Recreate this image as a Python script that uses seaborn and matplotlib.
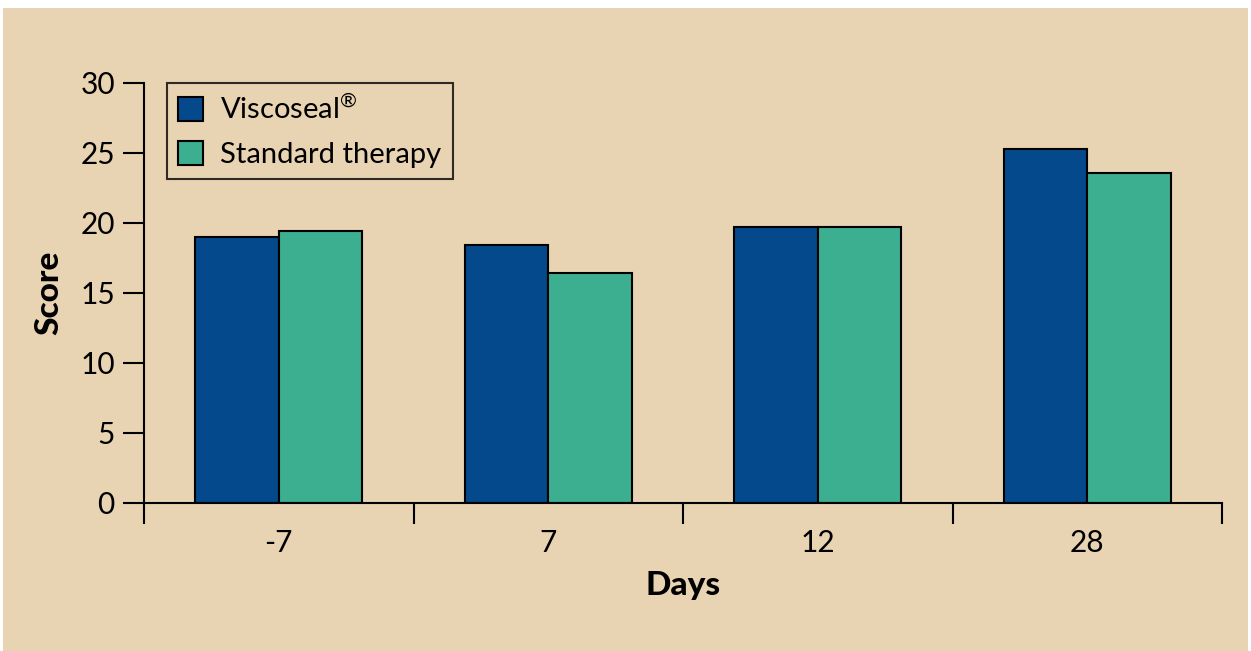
import matplotlib
matplotlib.use("Agg")
import matplotlib.pyplot as plt
import matplotlib.patches as mpatches
import seaborn as sns
import pandas as pd
from matplotlib.ticker import FixedLocator

# Scores per visit day
days = ["-7", "7", "12", "28"]
viscoseal = [19.0, 18.4, 19.7, 25.3]
standard = [19.4, 16.4, 19.7, 23.6]
series_names = ["Viscoseal\u00ae", "Standard therapy"]
y_ticks = [0, 5, 10, 15, 20, 25, 30]

df = pd.DataFrame({
    "Days": days * 2,
    "Score": viscoseal + standard,
    "Group": [series_names[0]] * len(days) + [series_names[1]] * len(days),
})

sns.set_theme(style="ticks")
plt.rcParams["font.family"] = ["Lato", "DejaVu Sans"]
plt.rcParams["mathtext.fontset"] = "custom"
plt.rcParams["mathtext.rm"] = "Lato"
plt.rcParams["text.color"] = "black"
plt.rcParams["axes.labelcolor"] = "black"

BG = "#E8D3B2"
BLUE = "#04498C"
TEAL = "#3BAF90"

W, H = 1251, 651
fig = plt.figure(figsize=(W / 100, H / 100), dpi=100, facecolor="white")
fig.patches.append(mpatches.Rectangle((3 / W, 0), 1245 / W, (H - 8) / H,
                                      transform=fig.transFigure,
                                      facecolor=BG, edgecolor="none", zorder=-10))

ax = fig.add_axes([144 / W, (H - 503) / H, (1222 - 144) / W, (503 - 83) / H])
ax.set_facecolor(BG)
ax.patch.set_alpha(0)

sns.barplot(data=df, x="Days", y="Score", hue="Group", order=days,
            hue_order=series_names, palette=[BLUE, TEAL], width=0.62,
            edgecolor="black", linewidth=1.5, saturation=1, ax=ax)

ax.set_xlim(-0.5, len(days) - 0.5)
ax.set_ylim(0, 30)
ax.set_yticks(y_ticks)
ax.xaxis.set_minor_locator(FixedLocator([i - 0.5 for i in range(len(days) + 1)]))

for s in ["top", "right"]:
    ax.spines[s].set_visible(False)
for s in ["left", "bottom"]:
    ax.spines[s].set_linewidth(1.5)
    ax.spines[s].set_color("black")

ax.tick_params(axis="x", which="major", length=0, pad=19, labelsize=21.5,
               colors="black", labelcolor="black")
ax.tick_params(axis="x", which="minor", length=15, width=1.5, direction="out", color="black")
ax.tick_params(axis="y", which="major", length=15, width=1.5, pad=6, labelsize=21.5,
               colors="black", labelcolor="black")

ax.set_xlabel("Days", fontsize=24, fontweight="black", labelpad=10, color="black")
ax.set_ylabel("Score", fontsize=24, fontweight="black", labelpad=12, color="black")

handles = [mpatches.Patch(facecolor=BLUE, edgecolor="black", linewidth=1.5),
           mpatches.Patch(facecolor=TEAL, edgecolor="black", linewidth=1.5)]
labels = ["Viscoseal$^{\u00ae}$", "Standard therapy"]
leg = ax.legend(handles, labels, loc="upper left", bbox_to_anchor=(23 / 1078, 1.0),
                borderaxespad=0, frameon=True, fancybox=False, fontsize=21,
                handlelength=0.85, handleheight=0.85, handletextpad=0.6,
                labelspacing=0.6, borderpad=0.38)
leg.get_frame().set_edgecolor("black")
leg.get_frame().set_linewidth(1.5)
leg.get_frame().set_facecolor("none")
for t in leg.get_texts():
    t.set_color("black")

fig.savefig("out.png", dpi=100, facecolor="white")
